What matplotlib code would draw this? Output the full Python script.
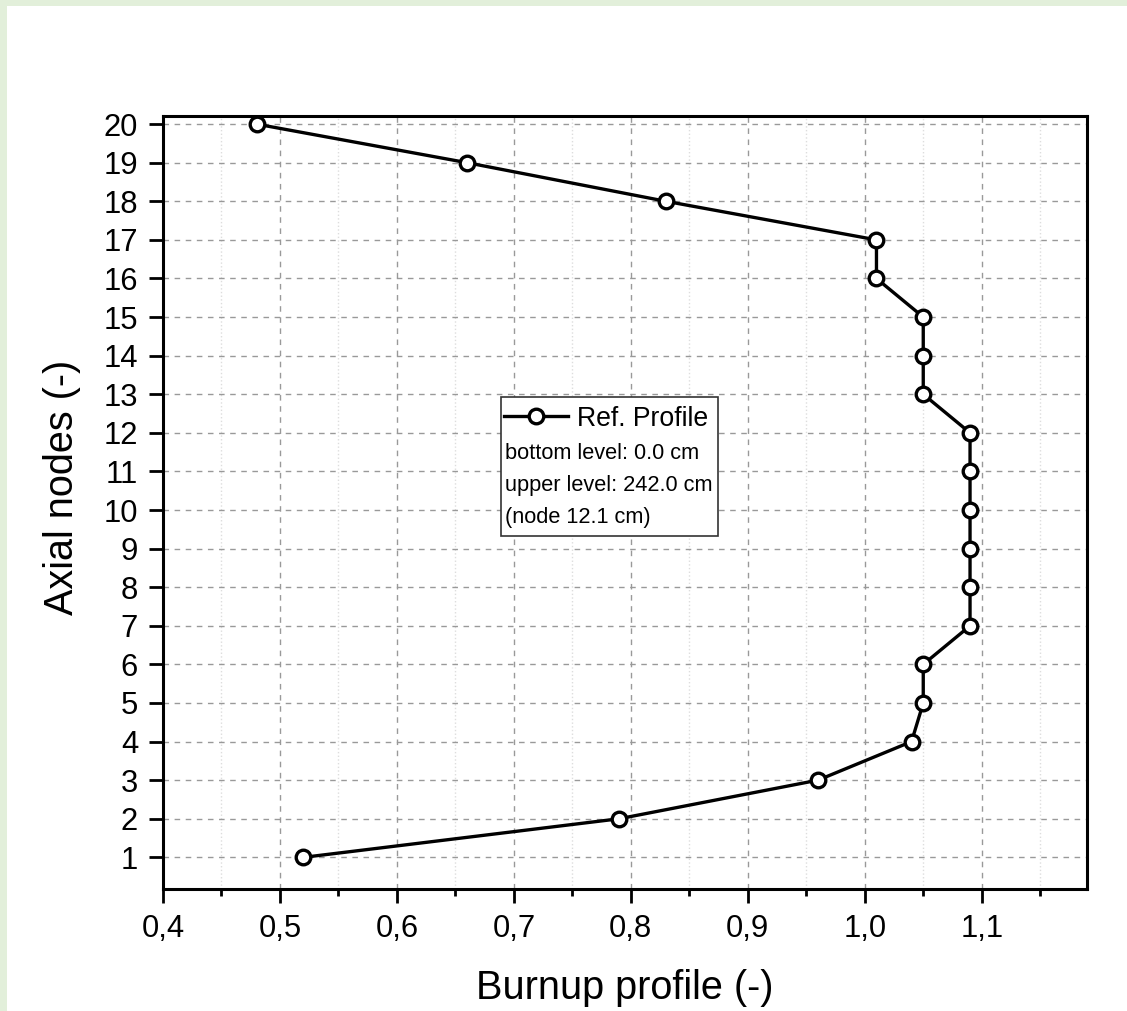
import matplotlib.pyplot as plt
from matplotlib.patches import Rectangle
from matplotlib.ticker import MultipleLocator, FuncFormatter

plt.rcParams['font.family'] = ['Liberation Sans', 'DejaVu Sans']

nodes = [20, 19, 18, 17, 16, 15, 14, 13, 12, 11, 10, 9, 8, 7, 6, 5, 4, 3, 2, 1]
burnup = [0.48, 0.66, 0.83, 1.01, 1.01, 1.05, 1.05, 1.05, 1.09, 1.09,
          1.09, 1.09, 1.09, 1.09, 1.05, 1.05, 1.04, 0.96, 0.79, 0.52]
legend_label = 'Ref. Profile'
info_lines = ['bottom level: 0.0 cm', 'upper level: 242.0 cm', '(node 12.1 cm)']

fig = plt.figure(figsize=(11.27, 10.11), dpi=100, facecolor='#e2efda')
fig.patches.append(Rectangle((7 / 1127, 0), 1, 1 - 6 / 1011, transform=fig.transFigure,
                             facecolor='white', edgecolor='none', zorder=-10))
ax = fig.add_axes([163 / 1127, 1 - 889 / 1011, 924 / 1127, 773 / 1011])
ax.set_zorder(1)

ax.plot(burnup, nodes, color='black', lw=2.4, marker='o', markersize=10.5,
        markerfacecolor='white', markeredgecolor='black', markeredgewidth=2.4,
        label=legend_label, zorder=3)

ax.set_xlim(0.4, 1.19)
ax.set_ylim(0.18, 20.21)
ax.xaxis.set_major_locator(MultipleLocator(0.1))
ax.xaxis.set_minor_locator(MultipleLocator(0.05))
ax.yaxis.set_major_locator(MultipleLocator(1))
ax.xaxis.set_major_formatter(FuncFormatter(lambda v, p: f'{v:.1f}'.replace('.', ',')))

ax.grid(True, which='major', linestyle=(0, (4, 4)), color='#999999', lw=1)
ax.grid(True, which='minor', axis='x', linestyle=':', color='#dddddd', lw=1)
ax.set_axisbelow(True)

for s in ax.spines.values():
    s.set_linewidth(2.2)
ax.tick_params(which='major', direction='out', length=10, width=2, labelsize=22.3,
               top=False, right=False, pad=8)
ax.tick_params(which='minor', direction='out', length=5, width=2,
               top=False, right=False)

ax.set_xlabel('Burnup profile (-)', fontsize=28.5)
ax.set_ylabel('Axial nodes (-)', fontsize=28.5)
ax.xaxis.set_label_coords(0.5, -0.103)
ax.yaxis.set_label_coords(-0.089, 0.52)

ax.add_patch(Rectangle((0.366, 0.457), 0.235, 0.179, transform=ax.transAxes,
                       facecolor='white', edgecolor='#333333', lw=1.2, zorder=4))
leg = ax.legend(loc='upper left', bbox_to_anchor=(0.363, 0.632), frameon=False,
                fontsize=19.2, handlelength=2.4, handletextpad=0.35, borderpad=0.2,
                borderaxespad=0)
leg.set_zorder(5)
for txt, yy in zip(info_lines, [0.564, 0.522, 0.480]):
    ax.text(0.370, yy, txt, transform=ax.transAxes, fontsize=15.7, va='center',
            ha='left', zorder=6)

fig.savefig('out.png', dpi=100, facecolor=fig.get_facecolor())
plt.close(fig)
